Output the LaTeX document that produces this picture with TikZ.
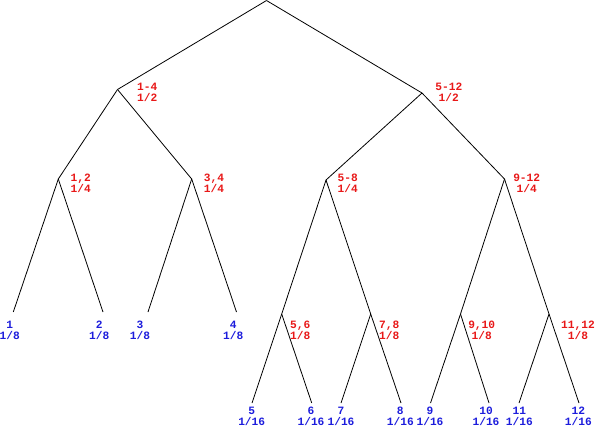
\documentclass[tikz,border=0pt]{standalone}
\usepackage{fontspec}
\setmonofont{Liberation Mono}
\definecolor{lblred}{RGB}{232,24,24}
\definecolor{lblblue}{RGB}{28,28,220}
\begin{document}
\begin{tikzpicture}[x=1bp,y=-1bp,
  edge/.style={draw=black,line width=0.8bp},
  lbl/.style={anchor=north,inner sep=0pt,align=center,
    font=\ttfamily\bfseries\fontsize{11.2bp}{11bp}\selectfont},
  inner/.style={lbl,text=lblred},
  leaf/.style={lbl,text=lblblue}]
\useasboundingbox (0,0) rectangle (595,428);
% tree vertices
\coordinate (R) at (266.5,0.5);
\coordinate (A) at (117.5,89.5);
\coordinate (B) at (422,93);
\coordinate (C) at (58.3,179);
\coordinate (D) at (191.7,179);
\coordinate (E) at (326,180);
\coordinate (F) at (504.5,179);
\coordinate (L1) at (13.3,312);
\coordinate (L2) at (103,312);
\coordinate (L3) at (148,312);
\coordinate (L4) at (236.5,312);
\coordinate (G) at (281.7,314);
\coordinate (H) at (370.7,314);
\coordinate (I) at (460.5,314);
\coordinate (J) at (549,314);
\coordinate (L5) at (252,403);
\coordinate (L6) at (311.7,403);
\coordinate (L7) at (341,403);
\coordinate (L8) at (401,403);
\coordinate (L9) at (430.5,403);
\coordinate (L10) at (489,403);
\coordinate (L11) at (519,403);
\coordinate (L12) at (579,403);
% edges
\foreach \p/\c in {R/A,R/B,A/C,A/D,B/E,B/F,C/L1,C/L2,D/L3,D/L4,
  E/G,E/H,F/I,F/J,G/L5,G/L6,H/L7,H/L8,I/L9,I/L10,J/L11,J/L12}
  \draw[edge] (\p) -- (\c);
% internal labels
\node[inner] (tA) at (147.2,83.3) {1-4\\1/2};
\node[inner] (tB) at (448.8,83.3) {5-12\\1/2};
\node[inner] (tC) at (80.7,173.3) {1,2\\1/4};
\node[inner] (tD) at (214,173.3) {3,4\\1/4};
\node[inner] (tE) at (347.7,173.3) {5-8\\1/4};
\node[inner] (tF) at (526.7,173.3) {9-12\\1/4};
\node[inner] (tG) at (300.3,320.7) {5,6\\1/8};
\node[inner] (tH) at (389.3,320.7) {7,8\\1/8};
\node[inner] (tI) at (481.7,320.7) {9,10\\1/8};
\node[inner] (tJ) at (578,320.7) {11,12\\1/8};
% leaf labels
\node[leaf] (t1) at (9.7,320.7) {1\\1/8};
\node[leaf] (t2) at (99.3,320.7) {2\\1/8};
\node[leaf] (t3) at (140,320.7) {3\\1/8};
\node[leaf] (t4) at (233.3,320.7) {4\\1/8};
\node[leaf] (t5) at (251.7,406.7) {5\\1/16};
\node[leaf] (t6) at (311,406.7) {6\\1/16};
\node[leaf] (t7) at (341,406.7) {7\\1/16};
\node[leaf] (t8) at (400.3,406.7) {8\\1/16};
\node[leaf] (t9) at (430,406.7) {9\\1/16};
\node[leaf] (t10) at (486,406.7) {10\\1/16};
\node[leaf] (t11) at (519.3,406.7) {11\\1/16};
\node[leaf] (t12) at (578.3,406.7) {12\\1/16};
\end{tikzpicture}
\end{document}
